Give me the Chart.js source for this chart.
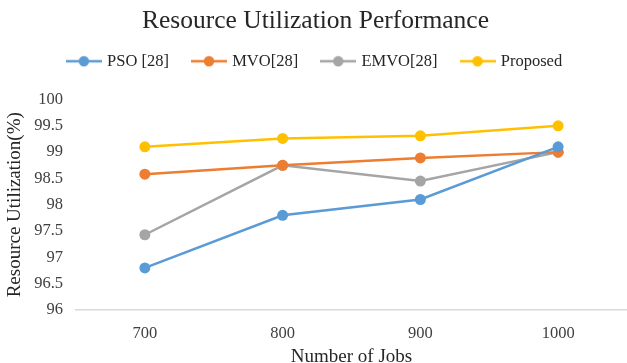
<!DOCTYPE html>
<html><head><meta charset="utf-8">
<script src="https://cdn.jsdelivr.net/npm/chart.js@4"></script>
<style>html,body{margin:0;padding:0;background:#fff;overflow:hidden;}#wrap{width:627px;height:363px;}</style>
</head><body><div id="wrap"><canvas id="c"></canvas></div>
<script>
const categories = ['700', '800', '900', '1000'];
const pso = [96.8, 97.8, 98.1, 99.1];
const mvo = [98.58, 98.75, 98.89, 99.0];
const emvo = [97.43, 98.75, 98.45, 99.0];
const proposed = [99.1, 99.26, 99.31, 99.5];
const seriesNames = ['PSO [28]', 'MVO[28]', 'EMVO[28]', 'Proposed'];
const colors = ['#5B9BD5', '#ED7D31', '#A5A5A5', '#FFC000'];

function legendIcon(color) {
  const cv = document.createElement('canvas');
  cv.width = 36; cv.height = 12;
  const g = cv.getContext('2d');
  g.strokeStyle = color; g.lineWidth = 2.5;
  g.beginPath(); g.moveTo(0, 6); g.lineTo(36, 6); g.stroke();
  g.fillStyle = color;
  g.beginPath(); g.arc(18, 6, 5.2, 0, Math.PI * 2); g.fill();
  return cv;
}
const icons = colors.map(legendIcon);

const allSeries = [pso, mvo, emvo, proposed];
const datasets = allSeries.map((d, i) => ({
  label: seriesNames[i],
  data: d,
  borderColor: colors[i],
  backgroundColor: colors[i],
  borderWidth: 2.5,
  pointRadius: 5.5,
  pointHoverRadius: 5.5,
  pointBackgroundColor: colors[i],
  pointBorderWidth: 0,
  tension: 0
}));

const legendSpacer = {
  id: 'legendSpacer',
  afterInit(chart) {
    const lg = chart.legend;
    if (lg && !lg._patched) {
      const origFit = lg.fit;
      lg.fit = function () { origFit.call(this); this.height += 14; };
      const origDraw = lg.draw;
      lg.draw = function () { const c = this.ctx; c.save(); c.translate(0, -6); origDraw.call(this); c.restore(); };
      lg._patched = true;
    }
  }
};

const serif = "'Liberation Serif', 'Times New Roman', serif";
new Chart(document.getElementById('c'), {
  type: 'line',
  data: { labels: categories, datasets },
  plugins: [legendSpacer],
  options: {
    responsive: true, maintainAspectRatio: false, animation: false,
    layout: { autoPadding: false, padding: { left: 4, right: 0, top: 0, bottom: 0 } },
    plugins: {
      title: { display: true, text: 'Resource Utilization Performance', color: '#262626',
        font: { family: serif, size: 25.5, weight: 'normal', lineHeight: 1.0 }, padding: { top: 8.5, bottom: 0 } },
      legend: { position: 'top',
        labels: { color: '#262626', font: { family: serif, size: 16.5 }, usePointStyle: true,
          pointStyleWidth: 30, boxHeight: 12, padding: 25,
          generateLabels(chart) {
            return chart.data.datasets.map((ds, i) => ({
              text: ds.label, fillStyle: ds.borderColor, strokeStyle: ds.borderColor,
              pointStyle: icons[i], lineWidth: 0, hidden: false, datasetIndex: i, fontColor: '#262626'
            }));
          } } },
      tooltip: { enabled: false }
    },
    scales: {
      x: {
        offset: true,
        afterFit(scale) { scale.paddingLeft = 0; scale.paddingRight = 0; scale.height = 53; },
        grid: { display: false, drawTicks: false },
        border: { display: true, color: '#D9D9D9', width: 1.5 },
        ticks: { color: '#404040', font: { family: serif, size: 16.5 }, padding: 14 },
        title: { display: true, text: 'Number of Jobs', color: '#262626', font: { family: serif, size: 19 }, padding: { top: 0, bottom: -5 } }
      },
      y: {
        min: 96, max: 100,
        afterFit(scale) { scale.width = 72; },
        grid: { display: false, drawTicks: false },
        border: { display: false },
        ticks: { stepSize: 0.5, color: '#404040', font: { family: serif, size: 16.5 }, padding: 13,
          callback: v => String(v) },
        title: { display: true, text: 'Resource Utilization(%)', color: '#262626', font: { family: serif, size: 19 }, padding: { top: 0, bottom: 0 } }
      }
    }
  }
});
</script></body></html>
